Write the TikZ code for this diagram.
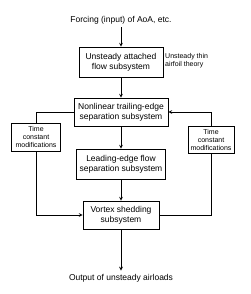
\documentclass[tikz,border=0pt]{standalone}
\usepackage{fontspec}
\setmainfont{Liberation Sans}
\usetikzlibrary{shapes,arrows,positioning,calc}
\begin{document}
\begin{tikzpicture}[x=1pt,y=-1pt,font=\fontsize{8.5}{10}\selectfont,
  blk/.style={draw,line width=0.7pt,align=center,inner sep=0pt},
  tcm/.style={blk,font=\fontsize{7}{8}\selectfont},
  flow/.style={line width=0.7pt,-stealth}]
  \useasboundingbox (0,0) rectangle (250,294);
  % Input and output texts
  \node (forcing) at (121,20) {Forcing (input) of AoA, etc.};
  \node (output) at (121,278) {Output of unsteady airloads};
  % Main chain of subsystems
  \node[blk,minimum width=84,minimum height=30] (attached) at (121,62) {Unsteady attached\\flow subsystem};
  \node[blk,minimum width=94,minimum height=28] (trailing) at (121,112) {Nonlinear trailing-edge\\separation subsystem};
  \node[blk,minimum width=89,minimum height=30] (leading) at (121,164) {Leading-edge flow\\separation subsystem};
  \node[blk,minimum width=76,minimum height=28] (vortex) at (121,215) {Vortex shedding\\subsystem};
  % Side boxes
  \node[tcm,minimum width=49,minimum height=28] (tcmleft) at (36,137) {Time\\constant\\modifications};
  \node[tcm,minimum width=46,minimum height=27] (tcmright) at (211,139.5) {Time\\constant\\modifications};
  \node[anchor=west,align=left,inner sep=0pt,font=\fontsize{7}{8}\selectfont] (theory) at (165,61) {Unsteady thin\\airfoil theory};
  % Connectors
  \draw[flow] (forcing) -- (attached);
  \draw[flow] (attached) -- (trailing);
  \draw[flow] (trailing) -- (leading);
  \draw[flow] (leading) -- (vortex);
  \draw[flow] (vortex) -- (output);
  \draw[line width=0.7pt] (trailing.west) -| (tcmleft.north);
  \draw[flow] (tcmleft.south) |- (vortex.west);
  \draw[line width=0.7pt] (vortex.east) -| (tcmright.south);
  \draw[flow] (tcmright.north) |- (trailing.east);
\end{tikzpicture}
\end{document}
